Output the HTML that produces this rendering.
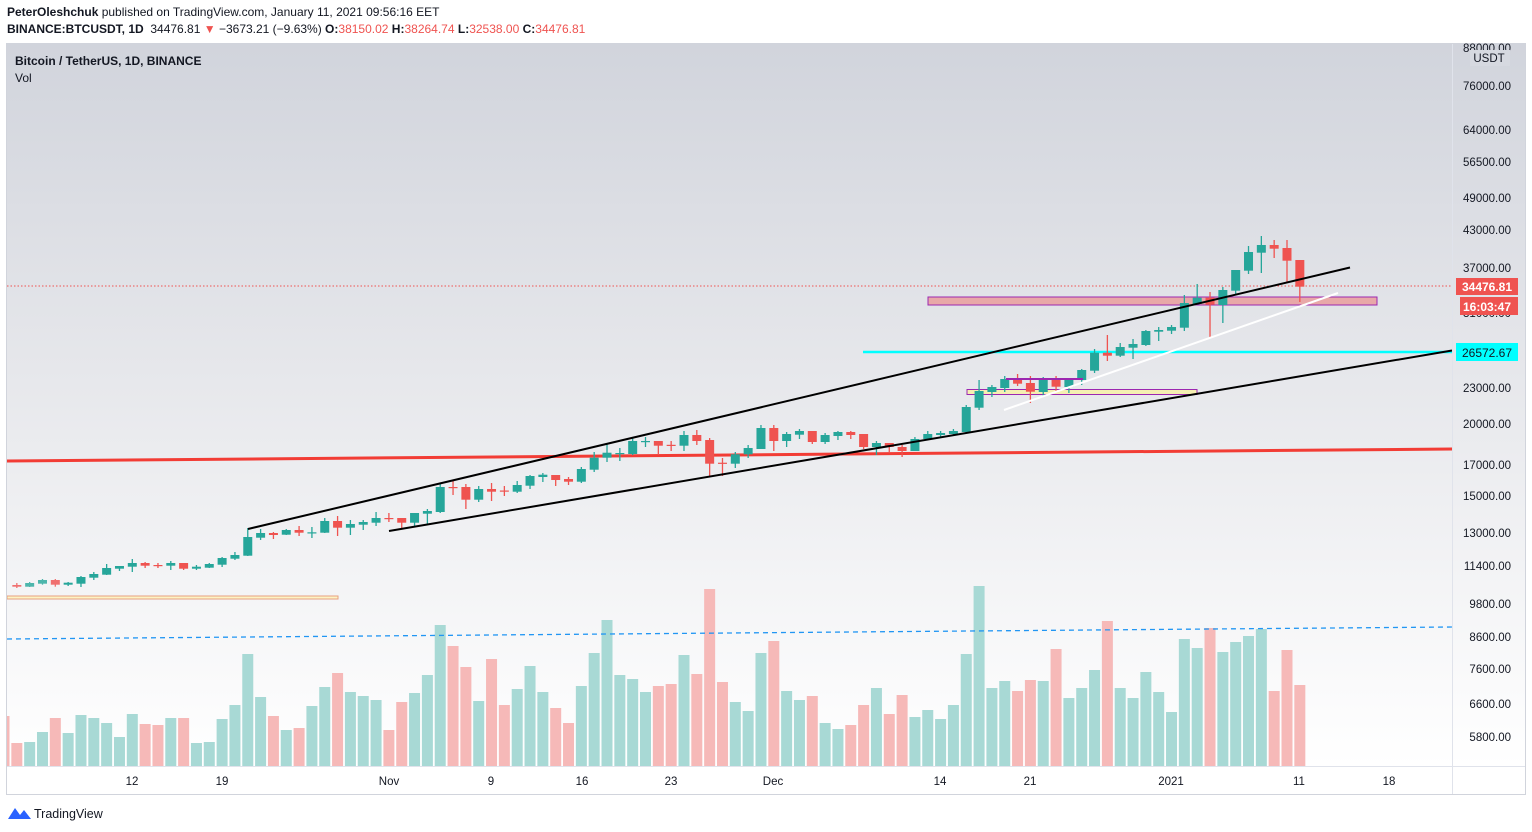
<!DOCTYPE html>
<html><head><meta charset="utf-8">
<style>
html,body{margin:0;padding:0;background:#fff;width:1532px;height:832px;overflow:hidden;font-family:"Liberation Sans",sans-serif;}
#hdr{position:absolute;left:7px;top:4px;font-size:12px;color:#131722;line-height:17px;}
#hdr b{font-weight:bold}
.r{color:#ef5350}
svg{position:absolute;left:0;top:0}
</style></head><body>
<svg id="s" width="1532" height="832" xmlns="http://www.w3.org/2000/svg">
<defs>
<linearGradient id="bg" x1="0" y1="0" x2="0" y2="1">
<stop offset="0" stop-color="#d1d4dc"/>
<stop offset="0.45" stop-color="#e6e7eb"/>
<stop offset="1" stop-color="#ffffff"/>
</linearGradient>
</defs>
<rect x="6" y="43" width="1520" height="723" fill="url(#bg)"/>
<rect x="6" y="766" width="1520" height="29" fill="#fff"/>
<g id="g"></g>
</svg>
<div id="hdr"><b>PeterOleshchuk</b> published on TradingView.com, January 11, 2021 09:56:16 EET<br>
<b>BINANCE:BTCUSDT, 1D</b>&nbsp; 34476.81 <span class="r">▼</span> −3673.21 (−9.63%) <b>O:</b><span class="r">38150.02</span> <b>H:</b><span class="r">38264.74</span> <b>L:</b><span class="r">32538.00</span> <b>C:</b><span class="r">34476.81</span></div>
<script>
var g=document.getElementById('g'),h='';
function X(i){return 4+i*12.83;}
var vol=[['p',716],['p',743],['g',742],['g',732],['p',718],['g',733],['g',715],['g',718],['g',723],['g',737],['g',714],['p',724],['p',725],['g',718],['p',718],['g',743],['g',742],['g',719],['g',705],['g',654],['g',697],['p',716],['g',730],['p',728],['g',706],['g',687],['p',673],['g',692],['g',696],['g',700],['p',730],['p',702],['g',693],['g',675],['g',625],['p',646],['p',667],['g',701],['p',659],['p',705],['g',689],['g',666],['g',692],['p',708],['p',723],['g',686],['g',653],['g',620],['g',675],['g',679],['g',692],['p',686],
['p',684],['g',655],['p',674],['p',589],['p',682],['g',702],['g',711],['g',653],['p',641],['g',691],['g',700],['p',696],['g',723],['g',729],['p',725],['p',705],['g',688],['p',714],['p',695],['g',717],['g',710],['g',719],['g',705],['g',654],['g',586],['g',688],['g',681],['p',691],['p',680],['g',681],['p',649],['g',698],['g',688],['g',670],['p',621],['g',688],['g',698],['g',672],['g',692],['g',712],['g',639],['g',648],['p',628],['g',652],['g',642],['g',636],['g',629],['p',691],['p',650],['p',685]];
vol.forEach(function(v,i){var x=X(i)-5.5,w=11;if(x<7){w-= (7-x);x=7;}h+='<rect x="'+x+'" y="'+v[1]+'" width="'+w+'" height="'+(766-v[1])+'" fill="'+(v[0]=='g'?'#a8d9d5':'#f6b9b8')+'"/>';});
h+='<line x1="7" y1="639" x2="1452" y2="627" stroke="#2196f3" stroke-width="1.3" stroke-dasharray="5,4"/>';
h+='<rect x="7" y="596" width="331" height="3" fill="#fdf3c4" stroke="#e8a080" stroke-width="1"/>';
h+='<line x1="7" y1="461" x2="1452" y2="449" stroke="#f23c35" stroke-width="3"/>';
h+='<line x1="7" y1="286" x2="1452" y2="286" stroke="#ef5350" stroke-width="1" stroke-dasharray="1.5,2"/>';
h+='<line x1="863" y1="352" x2="1452" y2="352" stroke="#00ffff" stroke-width="2.5"/>';
h+='<rect x="928" y="297" width="449" height="8" fill="#e8a8a8" stroke="#9c27b0" stroke-width="1"/>';
h+='<rect x="967" y="389.5" width="230" height="5" fill="#f5efb2" stroke="#9c27b0" stroke-width="1"/>';
var c=[[585,586,583,587],[585,586.7,583,588],[586.7,583,582,587],[583.7,580,579,584.7],[580,584.7,579,586.7],[584.7,582.7,582,586],[583.7,577,576,587],[577.7,574,572,580],[574.7,568,564,575],[568.7,566,566,571],[566.7,563,559,572],[563,565.7,562,568],[565,565.3,563,568],[565.7,563,561,570],[563,568.7,563,570],[568.7,566.7,565,570],[567.7,564,563,568],[564.7,558,557,567],[558.7,555,552,560],[555.7,537,528,556],[537.7,533,529,540],[533,535,532,539],[534.7,530,529,535],[530,532.7,526,536],[532.7,532.3,527,538],[532.7,521,518,533],[521,527.7,516,536],[527.7,524,520,535],[524.7,522,520,530],[522.7,518,512,526],[518,518.3,513,522],[518,522.7,518,528],[522.7,513,513,527],[513.7,511,509,524],[512,487,484,513],[487,487.3,480,495],[487,499.7,484,509],[499.7,489,486,502],[489,491.7,483,501],[490.5,490.9,486,496],[491.7,485,481,493],[485.7,476,475,489],[477,474.7,473,482],[475,480,475,486],[479,481.7,477,485],[481.7,469,467,483],[469.7,457.7,452,472],[457.7,452.7,444,462],[453.7,453,448,461],[454,441,437,455],[441.3,441,437,447],[441,445.7,441,455],[444.8,445.2,441,451],[445.7,435,431,451],[435,441,430,445],[440,463.7,438,476],[462.7,463,458,476],[463.7,454.3,452,468],[454.3,448,445,458],[449,428,425,449],[428,441,425,451],[441,434,432,447],[434.7,431,429,439],[431,442,431,444],[442,435,433,444],[436,432,431,440],[432,435,431,439],[434,447,434,449],[447,443,441,455],[443,447,443,453],[447,451,445,457],[451,439,437,451],[439,434,431,439],[435,433,431,437],[434,431,429,436],[432,407,405,433],[407.7,391,380,410],[392,387,385,397],[388,379,376,392],[379,383.7,374,386],[383,391.7,376,403],[392,379.7,377,396],[379,386.7,376,392],[387,379.7,379,393],[380,370,369,385],[370.7,352.7,349,373],[352.7,355.7,335,361],[355.7,347,343,357],[347.7,344,339,359],[345,331,330,346],[331.7,330,327,341],[330.7,327,325,334],[327.7,303,295,331],[304,297.7,284,304],[297.7,304.7,292,337],[305,290,287,323],[290.7,270,270,294],[270.7,252,246,274],[252.7,245,236,273],[245,248.7,240,258],[248,260.7,240,282],[260,286.7,260,302]];
c.forEach(function(d,i){var x=X(i),up=d[1]<d[0],col=up?'#26a69a':'#ef5350';if(i<5)col=up?'#4db6ac':'#f07070';
var t=Math.min(d[0],d[1]),b=Math.max(d[0],d[1]),bh=Math.max(b-t,1.2);
if(x<8)return;
h+='<line x1="'+x+'" y1="'+d[2]+'" x2="'+x+'" y2="'+d[3]+'" stroke="'+col+'" stroke-width="1.3"/>';
h+='<rect x="'+(x-4.5)+'" y="'+t+'" width="9" height="'+bh+'" fill="'+col+'"/>';});
h+='<line x1="248" y1="529" x2="1350" y2="267.5" stroke="#000" stroke-width="2"/>';
h+='<line x1="389" y1="531" x2="1452" y2="350.5" stroke="#000" stroke-width="2"/>';
h+='<line x1="1004" y1="410" x2="1338" y2="293" stroke="#fff" stroke-width="2"/>';
h+='<line x1="1006" y1="379" x2="1083" y2="379" stroke="#9c27b0" stroke-width="2"/>';
h+='<line x1="1452.5" y1="43" x2="1452.5" y2="795" stroke="#e0e3eb"/>';
h+='<line x1="6" y1="766.5" x2="1526" y2="766.5" stroke="#e0e3eb"/>';
h+='<rect x="6.5" y="43.5" width="1519" height="751" fill="none" stroke="#d1d4dc"/>';
var pl=[['88000.00',48],['76000.00',86],['64000.00',130],['56500.00',162],['49000.00',198],['43000.00',230],['37000.00',268],['31000.00',313],['23000.00',388],['20000.00',424],['17000.00',465],['15000.00',496],['13000.00',533],['11400.00',566],['9800.00',604],['8600.00',637],['7600.00',669],['6600.00',704],['5800.00',737]];
pl.forEach(function(p){h+='<text x="1511" y="'+(p[1]+4)+'" font-size="11.5" fill="#131722" text-anchor="end">'+p[0]+'</text>';});
h+='<rect x="1470" y="50" width="40" height="16" fill="#d6d9e0"/><text x="1489" y="62" font-size="11.5" fill="#131722" text-anchor="middle">USDT</text>';
h+='<rect x="1456" y="278" width="62" height="17" fill="#ef5350"/><text x="1487" y="291" font-size="12" font-weight="bold" fill="#fff" text-anchor="middle">34476.81</text>';
h+='<rect x="1460" y="297" width="58" height="18" fill="#ef5350"/><text x="1487" y="311" font-size="12" font-weight="bold" fill="#fff" text-anchor="middle">16:03:47</text>';
h+='<rect x="1456" y="343" width="62" height="18" fill="#00ffff"/><text x="1487" y="357" font-size="12" fill="#131722" text-anchor="middle">26572.67</text>';
[['12',132],['19',222],['Nov',389],['9',491],['16',582],['23',671],['Dec',773],['14',940],['21',1030],['2021',1171],['11',1299],['18',1389]].forEach(function(t){h+='<text x="'+t[1]+'" y="785" font-size="11.5" fill="#131722" text-anchor="middle">'+t[0]+'</text>';});
h+='<text x="15" y="65" font-size="12" font-weight="bold" fill="#131722">Bitcoin / TetherUS, 1D, BINANCE</text>';
h+='<text x="15" y="82" font-size="12" fill="#131722">Vol</text>';
h+='<path d="M8 819 L15 808 L20 815 L24 810 L31 819 Z" fill="#2962ff"/>';
h+='<text x="34" y="818" font-size="12.5" fill="#131722">TradingView</text>';
g.innerHTML=h;
</script>
</body></html>
